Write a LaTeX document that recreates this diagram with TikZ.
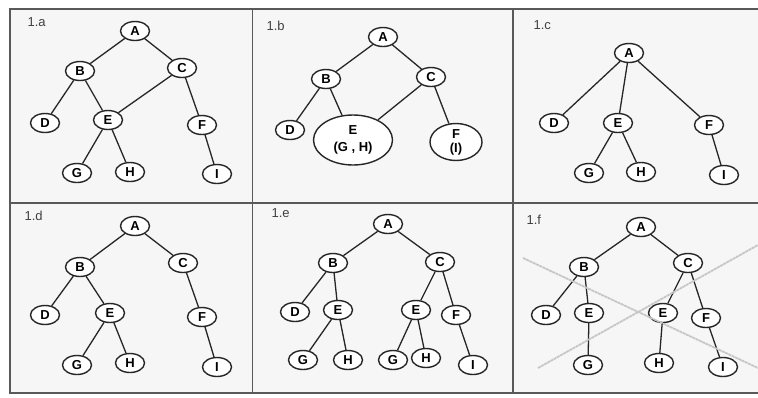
\documentclass[tikz,border=0pt]{standalone}
\usepackage{fontspec}
\setmainfont{Liberation Sans}
\usetikzlibrary{shapes.geometric}
\begin{document}
\begin{tikzpicture}[x=1pt,y=-1pt,
  nd/.style={draw=black!85,line width=1.4pt,ellipse,minimum width=29pt,minimum height=19pt,inner sep=0pt,font=\fontsize{13}{14}\selectfont\bfseries,fill=white},
  ed/.style={draw=black!85,line width=1.3pt},
  lbl/.style={font=\fontsize{13}{15}\selectfont,text=black!75,anchor=west},
  cross/.style={draw=gray!45,line width=1.8pt,dash pattern=on 3pt off 0.6pt}]
\useasboundingbox (0,0) rectangle (758,397);
\fill[gray!7] (10,9) rectangle (758,393);
\draw[black!65,line width=1.1pt] (758,9) -- (10,9) -- (10,393) -- (758,393);
\draw[black!65,line width=1.1pt] (10,203) -- (758,203);
\draw[black!65,line width=1.1pt] (252.5,9) -- (252.5,393);
\draw[black!65,line width=1.1pt] (513,9) -- (513,393);
% panel a
\node[lbl] (la) at (24,22) {1.a};
\node[nd] (aA) at (135,31) {A};
\node[nd] (aB) at (80,71) {B};
\node[nd] (aC) at (182,68) {C};
\node[nd] (aD) at (45,123) {D};
\node[nd] (aE) at (108,120) {E};
\node[nd] (aF) at (202,125) {F};
\node[nd] (aG) at (77,173) {G};
\node[nd] (aH) at (130,172) {H};
\node[nd] (aI) at (217,174) {I};
\draw[ed] (aA)--(aB) (aA)--(aC) (aB)--(aD) (aB)--(aE) (aC)--(aE) (aC)--(aF) (aE)--(aG) (aE)--(aH) (aF)--(aI);
% panel b
\node[lbl] (lb) at (263,26) {1.b};
\node[nd] (bA) at (383,37) {A};
\node[nd] (bB) at (326,79) {B};
\node[nd] (bC) at (431,77) {C};
\node[nd] (bD) at (290,130) {D};
\node[nd,minimum width=79pt,minimum height=50pt,align=center] (bE) at (353,140) {E\\[3pt](G , H)};
\node[nd,minimum width=52pt,minimum height=37pt,align=center] (bF) at (456,142) {F\\(I)};
\draw[ed] (bA)--(bB) (bA)--(bC) (bB)--(bD) (bB)--(bE) (bC)--(bE) (bC)--(bF);
% panel c
\node[lbl] (lc) at (530,25) {1.c};
\node[nd] (cA) at (629,53) {A};
\node[nd] (cD) at (554,123) {D};
\node[nd] (cE) at (618,123) {E};
\node[nd] (cF) at (709,125) {F};
\node[nd] (cG) at (589,173) {G};
\node[nd] (cH) at (641,172) {H};
\node[nd] (cI) at (724,175) {I};
\draw[ed] (cA)--(cD) (cA)--(cE) (cA)--(cF) (cE)--(cG) (cE)--(cH) (cF)--(cI);
% panel d
\node[lbl] (ld) at (21,216) {1.d};
\node[nd] (dA) at (135,226) {A};
\node[nd] (dB) at (80,267) {B};
\node[nd] (dC) at (183,263) {C};
\node[nd] (dD) at (45,315) {D};
\node[nd] (dE) at (110,313) {E};
\node[nd] (dF) at (202,317) {F};
\node[nd] (dG) at (77,365) {G};
\node[nd] (dH) at (130,363) {H};
\node[nd] (dI) at (217,367) {I};
\draw[ed] (dA)--(dB) (dA)--(dC) (dB)--(dD) (dB)--(dE) (dC)--(dF) (dE)--(dG) (dE)--(dH) (dF)--(dI);
% panel e
\node[lbl] (le) at (268,213) {1.e};
\node[nd] (eA) at (388,224) {A};
\node[nd] (eB) at (333,263) {B};
\node[nd] (eC) at (440,262) {C};
\node[nd] (eD) at (295,312) {D};
\node[nd] (eE1) at (338,310) {E};
\node[nd] (eE2) at (416,310) {E};
\node[nd] (eF) at (456,315) {F};
\node[nd] (eG1) at (303,360) {G};
\node[nd] (eH1) at (348,360) {H};
\node[nd] (eG2) at (393,360) {G};
\node[nd] (eH2) at (426,358) {H};
\node[nd] (eI) at (473,365) {I};
\draw[ed] (eA)--(eB) (eA)--(eC) (eB)--(eD) (eB)--(eE1) (eE1)--(eG1) (eE1)--(eH1) (eC)--(eE2) (eC)--(eF) (eE2)--(eG2) (eE2)--(eH2) (eF)--(eI);
% panel f
\node[lbl] (lf) at (523,220) {1.f};
\node[nd] (fA) at (641,227) {A};
\node[nd] (fB) at (584,267) {B};
\node[nd] (fC) at (688,263) {C};
\node[nd] (fD) at (546,315) {D};
\node[nd] (fE1) at (589,313) {E};
\node[nd] (fE2) at (663,313) {E};
\node[nd] (fF) at (706,318) {F};
\node[nd] (fG) at (588,365) {G};
\node[nd] (fH) at (659,363) {H};
\node[nd] (fI) at (723,367) {I};
\draw[ed] (fA)--(fB) (fA)--(fC) (fB)--(fD) (fB)--(fE1) (fE1)--(fG) (fC)--(fE2) (fC)--(fF) (fE2)--(fH) (fF)--(fI);
\coordinate (x1) at (523,258);
\coordinate (x2) at (758,368);
\coordinate (x3) at (538,368);
\coordinate (x4) at (758,245);
\draw[cross] (x1) -- (x2);
\draw[cross] (x3) -- (x4);
\end{tikzpicture}
\end{document}
